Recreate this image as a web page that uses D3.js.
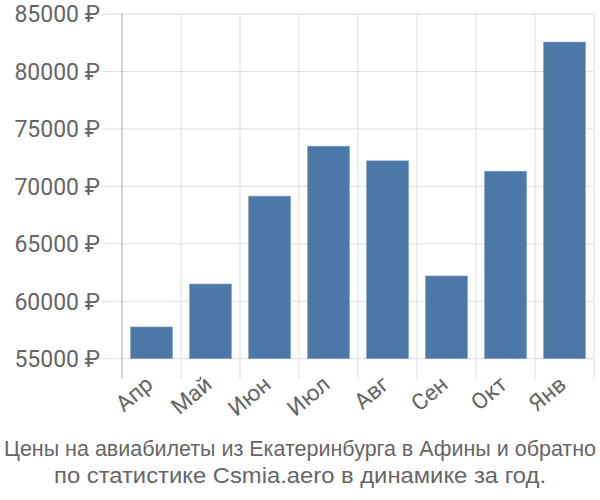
<!DOCTYPE html>
<html><head><meta charset="utf-8">
<script src="https://cdn.jsdelivr.net/npm/d3@7"></script>
<style>body{margin:0;background:#fff}svg{display:block}</style>
</head><body>
<script>
const months = ["Апр","Май","Июн","Июл","Авг","Сен","Окт","Янв"];
const prices = [57760, 61500, 69150, 73500, 72220, 62200, 71320, 82560];
const yTicks = [55000, 60000, 65000, 70000, 75000, 80000, 85000];
const titleLines = ["Цены на авиабилеты из Екатеринбурга в Афины и обратно", "по статистике Csmia.aero в динамике за год."];

(function () {
const W = 600, H = 500;
const svg = d3.select("body").append("svg").attr("width", W).attr("height", H);
const mLeft = 122, mRight = 594, mTop = 14, mBottom = 358.7;
const x = d3.scaleBand().domain(months).range([mLeft, mRight]).paddingInner(0.29).paddingOuter(0.145);
const y = d3.scaleLinear().domain([55000, 85000]).range([mBottom, mTop]);
const font = "Roboto, 'Liberation Sans', Arial, sans-serif";
const gridColor = "#dddddd";

svg.append("g").selectAll("line").data(yTicks).join("line")
  .attr("x1", mLeft - 20).attr("x2", mRight)
  .attr("y1", d => y(d)).attr("y2", d => y(d))
  .attr("stroke", gridColor).attr("stroke-width", 1);
const edges = months.map(m => x(m) - x.step() * x.paddingInner() / 2).concat([mRight]);
svg.append("g").selectAll("line").data(edges.slice(1)).join("line")
  .attr("x1", d => d).attr("x2", d => d)
  .attr("y1", mTop).attr("y2", mBottom + 20)
  .attr("stroke", gridColor).attr("stroke-width", 1);
svg.append("line").attr("x1", mLeft).attr("x2", mLeft).attr("y1", mTop).attr("y2", mBottom + 20)
  .attr("stroke", "#aaaaaa").attr("stroke-width", 1);

svg.append("g").selectAll("rect").data(prices).join("rect")
  .attr("x", (d, i) => x(months[i]))
  .attr("width", x.bandwidth())
  .attr("y", d => y(d))
  .attr("height", d => y(55000) - y(d))
  .attr("fill", "#4c78a8")
  .attr("stroke", "#7f9fc4").attr("stroke-width", 0.6);

svg.append("g").selectAll("text").data(yTicks).join("text")
  .attr("x", mLeft - 22).attr("y", d => y(d))
  .attr("dy", "0.36em").attr("text-anchor", "end")
  .attr("font-family", font).attr("font-size", 23).attr("fill", "#666")
  .text(d => d + " ₽");

svg.append("g").selectAll("text").data(months).join("text")
  .attr("transform", m => `translate(${x(m) + x.bandwidth() / 2 - 2},${mBottom + 22}) rotate(-40)`)
  .attr("text-anchor", "end").attr("dy", "0.35em")
  .attr("font-family", font).attr("font-size", 22.5).attr("fill", "#666")
  .text(m => m);

const tf = "'Liberation Sans', Arial, sans-serif";
svg.append("text").attr("transform", `translate(${W / 2},456) scale(1,1.1)`).attr("text-anchor", "middle")
  .attr("font-family", tf).attr("font-size", 20).attr("fill", "#666")
  .attr("textLength", 592).attr("lengthAdjust", "spacingAndGlyphs")
  .text(titleLines[0]);
svg.append("text").attr("transform", `translate(${W / 2},483) scale(1,1.1)`).attr("text-anchor", "middle")
  .attr("font-family", tf).attr("font-size", 20).attr("fill", "#666")
  .attr("textLength", 492).attr("lengthAdjust", "spacingAndGlyphs")
  .text(titleLines[1]);
})();
</script>
</body></html>
